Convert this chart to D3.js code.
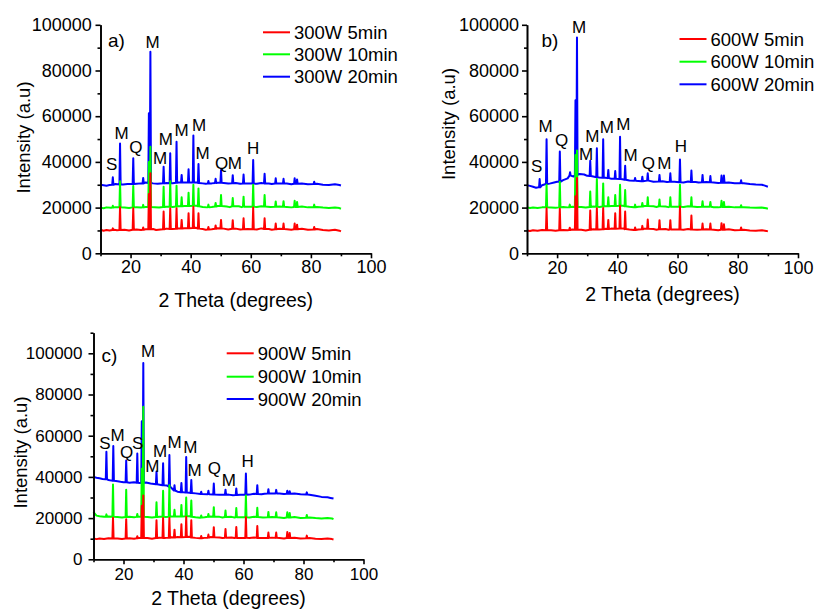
<!DOCTYPE html>
<html><head><meta charset="utf-8">
<script src="https://cdn.jsdelivr.net/npm/d3@7"></script>
<style>
body{margin:0;background:#fff}
svg text{font-family:Arial,"Liberation Sans",sans-serif;fill:#000}
</style>
</head><body>
<svg id="chart" width="816" height="610"></svg>
<script>
// ---------------- DATA ----------------
const xMajorTicks = [20, 40, 60, 80, 100];
const xMinorTicks = [10, 30, 50, 70, 90];
const yMajorTicks = [0, 20000, 40000, 60000, 80000, 100000];
const yMinorTicksAB = [10000, 30000, 50000, 70000, 90000];
const yMinorTicksC = [10000, 30000, 50000, 70000, 90000, 110000];

const legendA = ["300W 5min", "300W 10min", "300W 20min"];
const legendB = ["600W 5min", "600W 10min", "600W 20min"];
const legendC = ["900W 5min", "900W 10min", "900W 20min"];
const panelNames = ["a)", "b)", "c)"];

// baselines: [2theta, intensity]; peaks: [2theta, foot intensity, top intensity]
const aRedBase = [[10,10300],[11,9900],[12,10200],[13,10000],[14.5,10300],[15.5,10100],[18,10300],[19.5,10000],[22,10400],[23.5,10200],[25,10500],[27.5,10600],[28.5,10200],[30,10400],[32,10800],[34,10600],[36,10900],[38,11000],[41.7,11200],[44,10600],[45,10300],[47,10500],[49,11000],[51,10800],[52.5,10400],[55,10800],[56.5,10400],[59,10600],[62,10400],[63.5,10900],[66,10600],[67,10300],[69.5,10700],[72,10500],[73.5,10300],[77,10700],[79,10300],[82,10600],[84,10200],[86,10000],[88,10300],[89.5,9900],[90,9600]];
const aRedPeaks = [[14.1,10200,10900],[16.5,10200,20200],[20.9,10300,19700],[24.2,10300,11300],[26.1,10500,26000],[26.6,10500,35000],[31.0,10500,18300],[33.2,10600,19700],[35.3,10700,19700],[37.0,10900,14600],[39.3,11000,17500],[40.9,11100,20400],[42.6,10800,17500],[45.9,10400,11500],[48.3,10700,12200],[50.1,10900,14600],[54.0,10700,14500],[57.6,10500,15300],[60.8,10500,20000],[64.6,10600,15300],[68.3,10500,13000],[70.9,10600,13000],[74.6,10500,13000],[75.4,10500,12500],[81.1,10400,11500]];
const aGreenBase = [[10,20000],[11,19700],[12,20100],[13.5,19900],[15,20200],[18,20000],[19.5,19800],[22,20200],[23.5,20000],[25,20300],[28,20200],[29.5,20000],[32,20400],[34,20300],[36,20600],[38,20700],[42,20800],[44,20300],[45.5,20100],[47,20300],[49,20700],[52,20500],[53,20200],[56,20600],[57,20200],[59,20400],[62,20300],[63.5,20600],[66.5,20300],[69.5,20500],[72,20300],[73.5,20100],[77,20500],[79,20100],[82,20300],[84,20000],[86,19800],[88,20000],[89.5,19800],[90,19500]];
const aGreenPeaks = [[14.1,20000,20800],[16.5,20100,31500],[20.9,20100,29500],[24.2,20100,21200],[26.1,20300,40000],[26.6,20300,46600],[31.0,20300,29100],[33.2,20400,31500],[35.3,20500,29600],[37.0,20600,24500],[39.3,20700,26500],[40.9,20800,30000],[42.6,20600,28400],[45.9,20200,21300],[48.3,20500,22000],[50.1,20700,25500],[54.0,20600,24200],[57.6,20400,24800],[60.8,20400,30000],[64.6,20500,25500],[68.3,20400,22700],[70.9,20400,22800],[74.6,20300,23000],[75.4,20300,22500],[81.1,20200,21300]];
const aBlueBase = [[10,30000],[11,29800],[12,29600],[13,29900],[15,30300],[17.5,30100],[19,30300],[22,30400],[23.5,30600],[25,31000],[27.5,30600],[29,30400],[30,30500],[32,30800],[34,30700],[36,31000],[38,31000],[42,31000],[44,30600],[45,30400],[47,30600],[49,30900],[51,30800],[52.5,30500],[55,30800],[56.5,30400],[59,30600],[62,30400],[63.5,30800],[66,30500],[67,30300],[69.5,30600],[72,30500],[73.5,30200],[77,30500],[79,30200],[82,30400],[84,30000],[86,29900],[88,30200],[89.5,29900],[90,29700]];
const aBluePeaks = [[14.1,30000,33300],[16.5,30100,48000],[20.9,30300,41600],[24.2,30600,33000],[26.1,30800,61300],[26.6,30800,88200],[31.0,30600,37900],[33.2,30700,43800],[35.3,30900,48800],[37.0,31000,34300],[39.3,31000,36800],[40.9,31000,51500],[42.6,30800,39100],[45.9,30500,31600],[48.3,30800,32600],[50.1,30900,36500],[54.0,30700,34200],[57.6,30500,34500],[60.8,30500,40800],[64.6,30600,34800],[68.3,30500,32800],[70.9,30500,32600],[74.6,30400,32800],[75.4,30400,32300],[81.1,30300,31300]];

const bRedBase = [[10,10000],[11,9800],[12,10100],[13.5,9900],[15,10200],[18,10100],[19.5,9900],[22,10200],[23.5,10100],[25,10400],[28,10300],[29.5,10000],[32,10500],[34,10400],[36,10700],[38,10800],[42,10900],[44,10400],[45.5,10200],[47,10400],[49,10800],[52,10600],[53,10300],[56,10600],[57,10300],[59,10400],[62,10300],[63.5,10600],[66.5,10300],[69.5,10500],[72,10300],[73.5,10100],[77,10500],[79,10100],[82,10300],[84,10000],[86,9900],[88,10100],[89.5,9800],[90,9600]];
const bRedPeaks = [[16.5,10100,19700],[20.9,10100,19500],[24.2,10200,11200],[26.1,10300,25000],[26.6,10300,33000],[31.0,10300,18700],[33.2,10400,19700],[35.3,10500,19800],[37.0,10600,14600],[39.3,10700,17500],[40.9,10800,20800],[42.6,10600,18300],[45.9,10200,11300],[48.3,10500,12000],[50.1,10700,14800],[54.0,10500,14500],[57.6,10400,14500],[60.8,10400,20500],[64.6,10400,16500],[68.3,10400,13000],[70.9,10400,13000],[74.6,10300,13200],[75.4,10300,12700],[81.1,10200,11300]];
const bGreenBase = [[10,20100],[11,19800],[12,20000],[13.5,19800],[15,20100],[18,20000],[19.5,19900],[22,20300],[23.5,20100],[25,20400],[28,20300],[29.5,20000],[32,20500],[34,20300],[36,20600],[38,20700],[42,20800],[44,20400],[45.5,20200],[47,20400],[49,20700],[52,20600],[53,20300],[56,20500],[57,20200],[59,20400],[62,20300],[63.5,20600],[66.5,20300],[69.5,20400],[72,20200],[73.5,20100],[77,20400],[79,20100],[82,20200],[84,20000],[86,19900],[88,20000],[89.5,19700],[90,19500]];
const bGreenPeaks = [[16.5,20100,30000],[20.9,20100,31300],[24.2,20200,21300],[26.1,20300,43000],[26.6,20300,45000],[31.0,20300,27000],[33.2,20400,32500],[35.3,20500,30600],[37.0,20600,24500],[39.3,20700,25500],[40.9,20800,30000],[42.6,20600,27700],[45.9,20200,21300],[48.3,20500,22000],[50.1,20700,24500],[54.0,20600,23500],[57.6,20400,24500],[60.8,20400,30000],[64.6,20500,24500],[68.3,20400,22800],[70.9,20400,22500],[74.6,20300,23000],[75.4,20300,22500],[81.1,20200,21000]];
const bBlueBase = [[10,29800],[11,29500],[12,29100],[13,28700],[13.8,28900],[15,29800],[16,30200],[17.5,30500],[19,31000],[20,31300],[22,32000],[23.5,32800],[24.5,34200],[25.5,33600],[27.5,34700],[29,34500],[30,33900],[32,33600],[34,33200],[36,33100],[38,32600],[41.7,32400],[44,31900],[46,31700],[48,31500],[50,31900],[52,31300],[55,31500],[56.5,31200],[59,31300],[62,31000],[63.5,31400],[66,31200],[67,31000],[69.5,31200],[72,31000],[73.5,30800],[77,31000],[79,30700],[82,30700],[84,30300],[86,30100],[88,30000],[89,29600],[90,29100]];
const bBluePeaks = [[14.2,28900,32500],[16.5,30300,49900],[20.9,31300,44500],[24.3,34000,35500],[26.1,34200,67000],[26.6,34300,94400],[31.0,33800,40500],[33.2,33300,46000],[35.3,33100,49900],[37.0,32900,36500],[39.3,32600,36000],[40.9,32500,51000],[42.6,32200,38300],[45.9,31800,33000],[48.3,31500,33500],[50.1,31800,35000],[54.0,31400,34300],[57.6,31300,35000],[60.8,31100,41100],[64.6,31200,36200],[68.3,31100,34300],[70.9,31100,33800],[74.6,30900,34000],[75.4,30900,34000],[81.1,30700,32000]];

const cRedBase = [[10,10100],[11,9800],[12,10100],[13.5,9900],[15,10200],[18,10100],[19.5,9900],[22,10200],[23.5,10000],[25,10400],[28,10300],[29.5,10000],[32,10500],[34,10400],[36,10700],[38,10800],[42,10900],[44,10400],[45.5,10200],[47,10400],[49,10800],[52,10600],[53,10300],[56,10600],[57,10300],[59,10400],[62,10300],[63.5,10600],[66.5,10300],[69.5,10500],[72,10300],[73.5,10100],[77,10500],[79,10100],[82,10300],[84,10000],[86,9900],[88,10100],[89.5,9800],[90,9600]];
const cRedPeaks = [[16.5,10100,20200],[20.9,10100,19500],[24.6,10200,11200],[26.1,10300,26000],[26.6,10300,31000],[31.0,10300,19000],[33.2,10400,20000],[35.3,10500,20000],[37.0,10600,14400],[39.3,10700,17000],[40.9,10800,20700],[42.6,10600,19000],[45.9,10200,11300],[48.3,10500,12000],[50.1,10700,15600],[54.0,10500,14700],[57.6,10400,15700],[60.8,10400,20400],[64.6,10400,16200],[68.3,10400,13000],[70.9,10400,13000],[74.6,10300,13200],[75.4,10300,12800],[81.1,10200,11500]];
const cGreenBase = [[10,23000],[10.5,22000],[11,21200],[12,20900],[13.5,20700],[15,20800],[18,20500],[19.5,20300],[22,20600],[23.5,20400],[25,20700],[28,20500],[29.5,20300],[32,20700],[34,20500],[36,20800],[38,20800],[42,20900],[44,20400],[45.5,20200],[47,20400],[49,20800],[52,20600],[53,20300],[56,20600],[57,20300],[59,20400],[62,20300],[63.5,20600],[66.5,20300],[69.5,20500],[72,20300],[73.5,20100],[77,20500],[79,20100],[82,20300],[84,20000],[86,19800],[88,20000],[89.5,19800],[90,19500]];
const cGreenPeaks = [[14.3,20700,21800],[16.5,20600,36300],[20.9,20500,33800],[24.6,20600,22000],[26.1,20600,44000],[26.6,20600,74000],[31.0,20500,27700],[33.2,20600,33300],[35.3,20700,36000],[37.0,20800,24000],[39.3,20800,26400],[40.9,20900,30000],[42.6,20700,28500],[45.9,20300,21300],[48.3,20600,22000],[50.1,20700,25300],[54.0,20500,23700],[57.6,20400,24900],[60.8,20400,31000],[64.6,20500,25000],[68.3,20400,23000],[70.9,20400,22800],[74.6,20300,22800],[75.4,20300,22500],[81.1,20200,21500]];
const cBlueBase = [[10,40000],[11,39600],[12,39300],[13,39000],[14,38800],[15,38500],[16,38200],[17.5,38000],[19,37600],[20,37400],[22,37200],[23.5,37400],[25.5,37000],[27.5,37300],[29,36800],[31,36400],[33,36000],[34.5,35800],[36,34600],[37,33400],[38,32800],[40,32500],[42,32300],[44,32000],[46,31700],[48,31600],[52,31300],[55,31400],[56.5,31100],[59,31300],[62,31400],[63.5,31800],[66,31600],[67,31800],[69.5,32000],[72,31900],[73.5,31700],[77,31900],[79,31600],[82,31300],[84,30800],[86,30300],[88,30100],[89,29800],[90,29500]];
const cBluePeaks = [[14.3,38800,52200],[16.6,38100,55000],[20.9,37400,48000],[24.6,37200,51400],[26.1,37100,67000],[26.6,37100,95300],[31.0,36400,42600],[33.2,36000,46600],[35.3,35300,50600],[37.0,33400,36000],[39.3,32600,37000],[40.9,32400,49700],[42.6,32200,38500],[45.9,31700,32800],[48.3,31600,33300],[50.1,31400,36800],[54.0,31300,33800],[57.6,31200,34400],[60.8,31300,41600],[64.6,31700,36000],[68.3,31900,34000],[70.9,32000,33700],[74.6,31800,33300],[75.4,31800,33000],[81.1,31400,32500]];

// phase labels: [text, 2theta, intensity] (label centre)
const aLabels = [["S",13.7,39100],["M",17.0,52800],["Q",21.8,46700],["M",27.3,92600],["M",29.8,41800],["M",31.7,49900],["M",37.0,54000],["M",42.8,56100],["M",44.0,44000],["Q",50.3,39400],["M",54.7,39400],["H",60.8,46000]];
const bLabels = [["S",13.2,38300],["M",16.2,55700],["Q",21.5,49600],["M",27.3,99200],["M",29.6,43500],["M",31.7,51300],["M",36.5,55400],["M",42.0,56600],["M",44.4,43000],["Q",50.3,39400],["M",55.6,39600],["H",61.1,47100]];
const cLabels = [["S",13.8,56600],["M",18.0,60300],["Q",21.0,52200],["S",24.7,56600],["M",28.2,101300],["M",29.6,45300],["M",32.2,52500],["M",37.0,57000],["M",42.3,54700],["M",43.7,43600],["Q",50.3,44500],["M",55.1,38500],["H",61.4,47700]];

// ---------------- DRAWING ----------------
const colors = ["#ff0000", "#00ff00", "#0000ff"];
const svg = d3.select("#chart");

const panels = [
  {name: panelNames[0], legend: legendA, series: [[aRedBase,aRedPeaks],[aGreenBase,aGreenPeaks],[aBlueBase,aBluePeaks]], labels: aLabels,
   x0: 100.5, x1: 371, y0: 253.3, yTopPx: 24.8, yMax: 100000, yMinor: yMinorTicksAB, fs: 18, yPad: 3.8, xPad: 2,
   xTitleY: 307, yTitleX: 24, yTitleY: 137.5, legX: 263, legY: [32.3, 54.3, 76.7], nameX: 108, nameY: 47},
  {name: panelNames[1], legend: legendB, series: [[bRedBase,bRedPeaks],[bGreenBase,bGreenPeaks],[bBlueBase,bBluePeaks]], labels: bLabels,
   x0: 527, x1: 798, y0: 253.3, yTopPx: 24.8, yMax: 100000, yMinor: yMinorTicksAB, fs: 18, yPad: 3, xPad: 2.5,
   xTitleY: 300.5, yTitleX: 448.5, yTitleY: 124, legX: 679.5, legY: [39, 61.7, 84.3], nameX: 541.5, nameY: 47},
  {name: panelNames[2], legend: legendC, series: [[cRedBase,cRedPeaks],[cGreenBase,cGreenPeaks],[cBlueBase,cBluePeaks]], labels: cLabels,
   x0: 93.5, x1: 363.5, y0: 559.3, yTopPx: 332.7, yMax: 110000, yMinor: yMinorTicksC, fs: 17, yPad: 6, xPad: 4,
   xTitleY: 605, yTitleX: 21, yTitleY: 452.5, legX: 226.7, legY: [353.3, 376.7, 399], nameX: 101.5, nameY: 362}
];

function buildSeries(base, peaks) {
  const w = 0.2;
  const pts = base.filter(b => !peaks.some(p => Math.abs(p[0] - b[0]) < w + 0.06)).map(d => [d[0], d[1]]);
  peaks.forEach(p => { pts.push([p[0] - w, p[1]], [p[0], p[2]], [p[0] + w, p[1]]); });
  return pts.sort((a, b) => a[0] - b[0]);
}

panels.forEach(P => {
  const x = d3.scaleLinear().domain([10, 100]).range([P.x0, P.x1]);
  const y = d3.scaleLinear().domain([0, P.yMax]).range([P.y0, P.yTopPx]);
  const g = svg.append("g");

  // spectra: blue at bottom, then green, red on top
  const line = d3.line().x(d => x(d[0])).y(d => y(d[1]));
  [2, 1, 0].forEach(i => {
    const [base, peaks] = P.series[i];
    g.append("path").datum(buildSeries(base, peaks))
      .attr("d", line).attr("fill", "none")
      .attr("stroke", colors[i]).attr("stroke-width", 2)
      .attr("stroke-linejoin", "round");
  });

  // axes
  const xAxisMinor = d3.axisBottom(x).tickValues(xMinorTicks).tickSize(3).tickSizeOuter(0).tickFormat("");
  const xAxis = d3.axisBottom(x).tickValues(xMajorTicks).tickSize(5).tickSizeOuter(0).tickPadding(P.xPad).tickFormat(d3.format("d"));
  const yAxisMinor = d3.axisLeft(y).tickValues(P.yMinor).tickSize(3).tickSizeOuter(0).tickFormat("");
  const yAxis = d3.axisLeft(y).tickValues(yMajorTicks).tickSize(5).tickSizeOuter(0).tickPadding(P.yPad).tickFormat(d3.format("d"));

  [xAxisMinor, xAxis].forEach(ax => {
    const a = g.append("g").attr("transform", `translate(0,${P.y0})`).call(ax);
    a.selectAll("path,line").attr("stroke", "#000").attr("stroke-width", 1.6);
    a.selectAll("text").attr("font-size", P.fs).attr("font-family", "Arial, 'Liberation Sans', sans-serif").attr("fill", "#000");
  });
  [yAxisMinor, yAxis].forEach(ax => {
    const a = g.append("g").attr("transform", `translate(${P.x0},0)`).call(ax);
    a.selectAll("path,line").attr("stroke", "#000").attr("stroke-width", 1.6);
    a.selectAll("text").attr("font-size", P.fs).attr("font-family", "Arial, 'Liberation Sans', sans-serif").attr("fill", "#000");
  });

  // axis titles
  g.append("text").attr("x", (P.x0 + P.x1) / 2).attr("y", P.xTitleY)
    .attr("text-anchor", "middle").attr("font-size", 19.5).text("2 Theta (degrees)");
  g.append("text").attr("transform", `translate(${P.yTitleX},${P.yTitleY}) rotate(-90)`)
    .attr("text-anchor", "middle").attr("dy", "0.35em").attr("font-size", 18.5).text("Intensity (a.u)");

  // panel name
  g.append("text").attr("x", P.nameX).attr("y", P.nameY).attr("font-size", 19).text(P.name);

  // phase labels
  g.selectAll(".pl").data(P.labels).enter().append("text")
    .attr("x", d => x(d[1])).attr("y", d => y(d[2])).attr("dy", "0.36em")
    .attr("text-anchor", "middle").attr("font-size", 17).text(d => d[0]);

  // legend
  P.legend.forEach((t, i) => {
    g.append("line").attr("x1", P.legX).attr("x2", P.legX + 27)
      .attr("y1", P.legY[i]).attr("y2", P.legY[i])
      .attr("stroke", colors[i]).attr("stroke-width", 2);
    g.append("text").attr("x", P.legX + 31).attr("y", P.legY[i]).attr("dy", "0.36em")
      .attr("font-size", 18.5).text(t);
  });
});
</script>
</body></html>
